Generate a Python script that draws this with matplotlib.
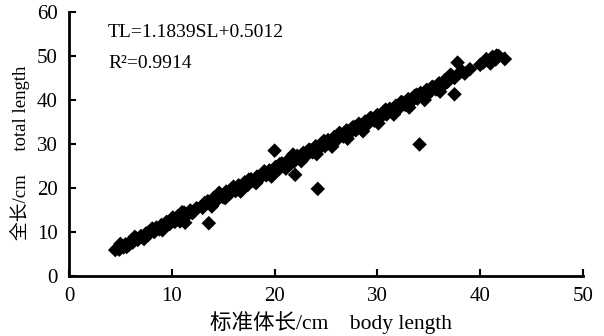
import numpy as np
import matplotlib
matplotlib.use("Agg")
import matplotlib.pyplot as plt

# standard length (SL) vs total length (TL), cm
SL = [4.5, 4.7, 4.9, 5.1, 5.3, 5.5, 5.8, 6.0, 6.2, 6.5, 6.7, 7.0, 7.2, 7.5, 7.7,
      8.0, 8.3, 8.5, 8.8, 9.0, 9.3, 9.5, 9.8, 10.0, 10.3, 10.6, 10.9, 11.2, 11.5,
      11.8, 12.1, 12.4, 13.0, 13.5, 13.8, 14.1, 14.4, 14.7, 15.0, 15.3, 15.6,
      15.9, 16.2, 16.5, 16.8, 17.1, 17.4, 17.7, 18.0, 18.3, 18.6, 18.9, 19.2,
      19.5, 19.8, 20.1, 20.4, 20.7, 21.0, 21.3, 21.6, 21.9, 22.2, 22.5, 22.8,
      23.1, 23.4, 23.7, 24.0, 24.3, 24.6, 24.9, 25.2, 25.5, 25.8, 26.1, 26.4,
      26.7, 27.0, 27.3, 27.6, 27.9, 28.2, 28.5, 28.8, 29.1, 29.4, 29.7, 30.0,
      30.3, 30.6, 30.9, 31.2, 31.5, 31.8, 32.1, 32.4, 32.7, 33.0, 33.3, 33.6,
      33.9, 34.2, 34.5, 34.8, 35.1, 35.4, 35.7, 36.0, 36.3, 36.6, 36.9, 37.2,
      37.5, 37.8, 38.0, 38.5, 39.0, 40.3, 40.6, 40.9, 41.2, 41.5, 41.8, 42.4,
      # second pass, wider spread around the fit
      5.0, 5.6, 6.4, 7.3, 8.1, 9.1, 10.1, 10.8, 11.0, 12.0, 13.2, 13.9, 14.6,
      15.2, 16.0, 16.7, 17.5, 18.2, 19.0, 19.7, 20.5, 21.1, 21.8, 22.6, 23.3,
      24.1, 24.8, 25.6, 26.3, 27.1, 27.8, 28.6, 29.3, 30.1, 30.8, 31.6, 32.3,
      33.1, 33.8, 34.6, 35.3, 36.1, 36.8, 37.1, 38.2, 40.0, 41.0, 41.6,
      # outliers
      11.3, 13.6, 20.0, 22.0, 24.2, 34.1, 37.5]
TL = [5.9, 6.3, 6.0, 6.8, 6.5, 7.2, 7.0, 7.9, 7.6, 8.6, 8.2, 9.1, 8.7, 9.7, 9.3,
      10.4, 10.0, 11.0, 10.6, 11.6, 11.2, 12.3, 11.8, 12.9, 12.3, 13.6, 13.0,
      14.4, 13.8, 14.9, 14.5, 15.4, 15.5, 17.0, 16.4, 17.8, 17.2, 18.6, 17.9,
      19.2, 18.6, 19.9, 19.3, 20.6, 20.0, 21.3, 20.7, 22.0, 21.5, 22.6, 22.2,
      23.3, 22.9, 24.0, 23.6, 24.8, 24.2, 25.6, 25.0, 26.3, 25.6, 26.0, 27.3,
      26.8, 28.0, 27.4, 28.7, 28.1, 29.5, 28.9, 30.2, 29.5, 30.9, 30.2, 31.6,
      31.0, 32.3, 31.7, 33.1, 32.4, 33.8, 33.1, 34.6, 33.9, 35.1, 34.6, 35.9,
      35.3, 36.6, 36.0, 37.3, 36.7, 38.0, 37.4, 38.7, 38.1, 39.5, 38.9, 40.2,
      39.6, 40.9, 40.3, 41.6, 41.0, 42.3, 41.7, 43.0, 42.4, 43.8, 43.1, 44.6,
      44.4, 45.6, 45.0, 48.5, 46.2, 46.0, 47.0, 48.5, 49.3, 48.7, 49.8, 49.2,
      50.0, 49.3,
      7.3, 6.6, 8.9, 8.4, 10.8, 10.4, 13.3, 12.4, 14.5, 14.3, 16.6, 15.8, 18.9,
      17.7, 20.3, 19.2, 21.9, 21.1, 23.8, 22.6, 25.4, 24.4, 27.6, 26.1, 28.6,
      27.7, 30.7, 29.4, 32.5, 31.2, 33.9, 32.9, 35.9, 34.7, 37.8, 36.7, 39.5,
      38.3, 41.2, 40.0, 42.9, 41.9, 44.1, 45.7, 46.6, 48.0, 48.3, 50.1,
      12.1, 12.0, 28.5, 23.0, 19.8, 29.9, 41.3]

SLOPE, INTERCEPT, R2 = 1.1839, 0.5012, 0.9914

SERIF = ["Liberation Serif", "Noto Sans CJK SC"]

fig = plt.figure(figsize=(6.04, 3.36), dpi=100)
ax = fig.add_axes([69 / 604, 1 - 276 / 336, 514 / 604, 264 / 336])

ax.scatter(SL, TL, marker="D", s=55, color="black", edgecolors="none", zorder=3)
xl = np.array([min(SL), max(SL)])
ax.plot(xl, SLOPE * xl + INTERCEPT, color="black", lw=1.5, zorder=2)

ax.set_xlim(0, 50)
ax.set_ylim(0, 60)
ax.set_xticks([0, 10, 20, 30, 40, 50])
ax.set_yticks([0, 10, 20, 30, 40, 50, 60])
for s in ("top", "right"):
    ax.spines[s].set_visible(False)
for s in ("left", "bottom"):
    ax.spines[s].set_linewidth(2)
ax.tick_params(direction="in", length=5, width=1.5, pad=8)
for lab in ax.get_xticklabels() + ax.get_yticklabels():
    lab.set_family("Liberation Serif")
    lab.set_fontsize(15)

ax.text(0.076, 0.905, f"TL={SLOPE}SL+{INTERCEPT}", transform=ax.transAxes,
        family=SERIF, fontsize=14, va="baseline")
ax.text(0.076, 0.788, f"R²={R2}", transform=ax.transAxes,
        family=SERIF, fontsize=14, va="baseline")

fig.text(331 / 604, 1 - 323 / 336, "标准体长/cm    body length", family=SERIF,
         fontsize=15.5, ha="center", va="center")
fig.text(20 / 604, 1 - 153 / 336, "全长/cm     total length", family=SERIF,
         fontsize=13.5, ha="center", va="center", rotation=90)

fig.savefig("out.png", dpi=100)
